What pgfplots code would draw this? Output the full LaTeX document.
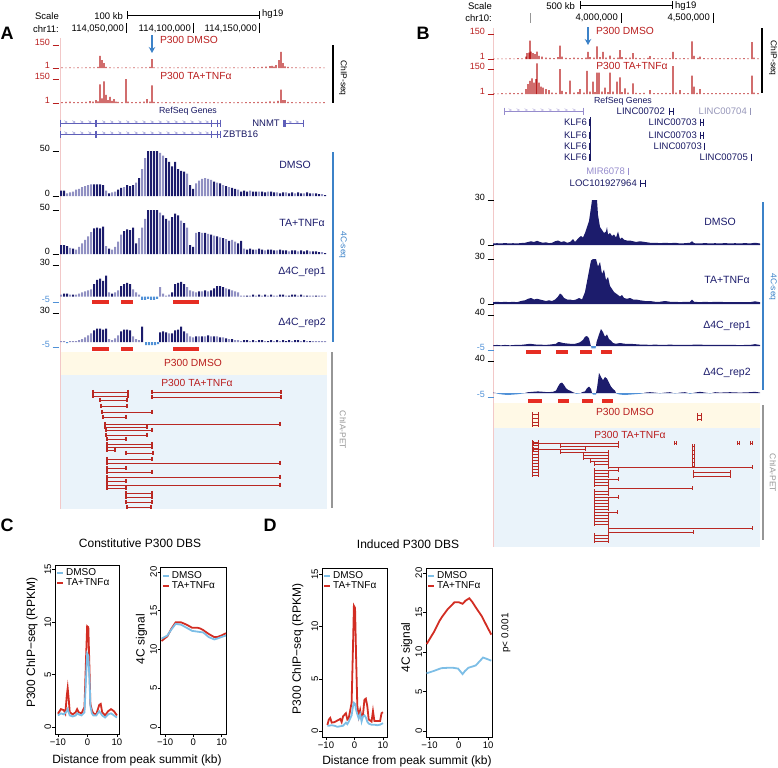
\documentclass[border=0pt]{standalone}
\usepackage{pgfplots}
\pgfplotsset{compat=1.18}
\usetikzlibrary{arrows.meta}
\usepackage{fontspec}
\setmainfont{Liberation Sans}
\setsansfont{Liberation Sans}
\newcommand\fs[1]{\fontsize{#1bp}{#1bp}\selectfont}
\definecolor{chipred}{RGB}{185,30,30}
\definecolor{navyc}{RGB}{28,28,108}
\definecolor{lav}{RGB}{145,145,195}
\definecolor{negblue}{RGB}{80,145,215}
\definecolor{barblue}{RGB}{60,130,200}
\definecolor{delred}{RGB}{230,45,35}
\definecolor{ybg}{RGB}{255,249,230}
\definecolor{bbg}{RGB}{234,243,250}
\definecolor{loopred}{RGB}{185,40,35}
\definecolor{genetxt}{RGB}{25,25,100}
\definecolor{geneline}{RGB}{95,95,185}
\definecolor{genelight}{RGB}{150,140,205}
\definecolor{genegray}{RGB}{150,150,185}
\definecolor{pinkline}{RGB}{242,200,200}
\definecolor{dmsoblue}{RGB}{125,190,230}
\definecolor{tared}{RGB}{210,45,35}
\definecolor{pgray}{RGB}{150,150,150}
\newcommand\trl[4]{\node[anchor=east,font=\fs{9},text=#4,inner sep=0pt] at (#1,#2) {#3};\draw[#4,line width=0.6bp] (#1+2.5,#2+3.2)--(#1+9,#2+3.2);}
\tikzset{gtxt/.style={font=\fs{9.5}, inner sep=0pt}}
\pgfplotsset{
 trk/.style={scale only axis, axis lines=none, clip=false, anchor=north west, xmin=60, xmax=327, width=267bp},
 trkB/.style={scale only axis, axis lines=none, clip=false, anchor=north west, xmin=493, xmax=760, width=267bp},
 dk/.style={ybar, bar width=2, bar shift=0pt, fill=navyc, draw=none},
 lt/.style={ybar, bar width=2, bar shift=0pt, fill=lav, draw=none},
 ng/.style={ybar, bar width=2, bar shift=0pt, fill=negblue, draw=none},
 spk/.style={ybar, bar width=1.1, bar shift=0pt, fill=chipred, draw=none},
 del/.style={delred, line width=4bp},
 loop/.style={loopred, line width=0.7bp, mark=|, mark size=2.2bp, mark options={line width=1.5bp, solid}},
 loopB/.style={loopred, line width=0.6bp, mark=|, mark size=1.6bp, mark options={line width=1bp, solid}},
 chev/.style={only marks, mark=text, text mark={\fs{6}\textcolor{#1}{>}}},
 exon/.style={only marks, mark=|, mark size=3.5bp, mark options={line width=#1}},
 cd/.style={scale only axis, anchor=south west, axis line style={line width=0.7bp}, tick align=outside, tick pos=left, major tick length=3bp, every tick/.style={black, line width=0.6bp}, /pgf/number format/assume math mode=true, ticklabel style={font=\fs{9.5}}, yticklabel style={rotate=90, anchor=south, inner sep=0.5bp}, xticklabel style={inner sep=1.5bp}, xtick={-10,0,10}, xticklabels={−10,0,10}, ytick={0,5,10,15,20}, ylabel style={font=\fs{12}, anchor=center}, legend style={at={(0,1)}, anchor=north west, draw=none, fill=none, font=\fs{10}, inner xsep=1bp, inner ysep=1.5bp, row sep=-2.5bp}, legend cell align=left, reverse legend, legend image code/.code={\draw[#1, line width=2bp] (0bp,0bp)--(6bp,0bp);}},
 dm/.style={dmsoblue, line width=1.8bp},
 ta/.style={tared, line width=1.8bp},
}
\begin{document}
\begin{tikzpicture}
\path[use as bounding box] (0,0) rectangle (778bp,-768bp);
\begin{scope}[x=1bp,y=-1bp]
\fill[ybg] (60,352) rectangle (327,375);
\fill[bbg] (60,375) rectangle (327,509);
\fill[ybg] (494,403) rectangle (760,428);
\fill[bbg] (494,428) rectangle (760,547);
\draw[pinkline,line width=0.6bp] (60,38)--(60,509);
\draw[pinkline,line width=0.6bp] (493,28)--(493,547);
\end{scope}

% ================= PANEL A =================
\begin{axis}[trk, at={(60bp,-45.2bp)}, height=23bp, ymin=0, ymax=150]
\addplot[spk] coordinates {(62,5)(66,4)(70,5)(74,4)(78,5)(82,4)(86,5)(90,6)(94,5)(98,8)(100,80)(102,53)(104,33)(106,8)(110,5)(114,4)(118,5)(122,4)(126,6)(130,4)(134,5)(138,4)(142,5)(146,6)(150,8)(152,60)(154,6)(158,4)(162,5)(166,4)(170,5)(174,4)(178,5)(182,4)(186,5)(190,4)(194,5)(198,4)(202,5)(206,4)(210,5)(214,4)(218,5)(222,4)(226,5)(230,4)(234,5)(238,4)(242,5)(246,4)(250,6)(254,7)(258,6)(262,8)(266,10)(270,13)(272,15)(274,10)(276,20)(279,53)(281,107)(283,33)(285,12)(288,8)(292,6)(296,5)(300,4)(304,5)(308,4)(312,5)(316,4)(320,5)(324,4)};
\end{axis}
\begin{axis}[trk, at={(60bp,-79.2bp)}, height=24bp, ymin=0, ymax=150]
\addplot[spk] coordinates {(62,6)(66,8)(70,10)(74,6)(78,7)(82,6)(86,8)(90,13)(93,10)(96,20)(98,12)(100,117)(102,30)(104,137)(106,52)(108,20)(110,39)(112,15)(114,26)(116,10)(118,8)(122,7)(126,150)(128,10)(132,7)(136,6)(140,8)(144,10)(147,26)(150,10)(152,111)(154,8)(158,6)(162,5)(166,6)(170,5)(174,6)(178,5)(182,6)(186,5)(190,6)(194,5)(198,6)(202,5)(206,6)(210,5)(214,6)(218,5)(222,6)(226,5)(230,6)(234,5)(238,6)(242,5)(246,6)(250,7)(254,6)(258,8)(262,7)(266,9)(270,12)(274,10)(278,15)(281,85)(283,20)(285,20)(288,9)(292,6)(296,5)(300,6)(304,5)(308,6)(312,5)(316,6)(320,5)(324,6)};
\end{axis}
\begin{axis}[trk, at={(60bp,-105bp)}, height=35bp, ymin=105, ymax=140, y dir=reverse]
\addplot[geneline, line width=0.6bp] coordinates {(60,123)(220,123)};
\addplot[geneline, line width=0.6bp] coordinates {(60,134)(220,134)};
\addplot[geneline, line width=0.6bp] coordinates {(283,123)(303,123)};
\addplot[chev=geneline] coordinates {(66,123)(74,123)(82,123)(90,123)(104,123)(112,123)(120,123)(128,123)(136,123)(144,123)(152,123)(160,123)(168,123)(176,123)(184,123)(192,123)(200,123)(207,123)(290,123)(297,123)};
\addplot[chev=geneline] coordinates {(66,134)(74,134)(82,134)(90,134)(104,134)(112,134)(120,134)(128,134)(136,134)(144,134)(152,134)(160,134)(168,134)(176,134)(184,134)(192,134)(200,134)(207,134)};
\addplot[geneline, exon=0.8bp] coordinates {(60,123)(211,123)(217,123)(220,123)(60,134)(211,134)(217,134)(220,134)(283,123)(303,123)};
\addplot[geneline, exon=2bp] coordinates {(96,123)(96,134)(285,123)};
\node[anchor=east, gtxt, text=genetxt] at (axis cs:280,123) {NNMT};
\node[anchor=west, gtxt, text=genetxt] at (axis cs:223,134) {ZBTB16};
\end{axis}
\begin{axis}[trk, at={(60bp,-151bp)}, height=45bp, ymin=0, ymax=50]
\addplot[dk] coordinates {(61,6)(64,6)(94,13)(97,13)(100,13)(103,12)(109,3)(118,7)(121,9)(127,12)(130,11)(133,12)(139,20)(148,50)(151,50)(154,50)(157,50)(166,42)(169,38)(172,33)(175,38)(178,30)(181,28)(184,27)(190,12)(193,8)(214,16)(220,14)(226,11)(232,9)(235,8)(241,5)(244,6)(247,5)(253,5)(256,5)(262,5)(265,4)(271,5)(274,4)(280,3)(283,4)(289,3)(292,4)(298,4)(301,3)(307,4)(310,3)(316,3)(319,2)(325,1)};
\addplot[lt] coordinates {(67,3)(70,4)(73,5)(76,7)(79,8)(82,10)(85,11)(88,12)(91,13)(106,6)(112,4)(115,5)(124,10)(136,15)(142,30)(145,42)(160,48)(163,45)(187,25)(196,14)(199,17)(202,19)(205,20)(208,19)(211,18)(217,15)(223,12)(229,10)(238,7)(250,6)(259,5)(268,5)(277,4)(286,4)(295,3)(304,3)(313,3)(322,2)};
\end{axis}
\begin{axis}[trk, at={(60bp,-210bp)}, height=44bp, ymin=0, ymax=50]
\addplot[dk] coordinates {(61,10)(64,10)(67,9)(73,6)(94,29)(97,30)(100,29)(103,31)(109,6)(124,26)(127,28)(130,27)(133,30)(136,12)(148,50)(151,50)(154,50)(157,50)(163,44)(166,40)(172,42)(175,46)(178,44)(184,35)(190,10)(193,8)(199,25)(205,24)(211,22)(217,20)(223,18)(229,15)(238,12)(241,15)(247,5)(250,6)(253,5)(259,6)(262,5)(268,5)(271,5)(274,4)(280,5)(283,4)(286,4)(292,4)(295,4)(301,4)(304,3)(307,4)(313,3)(316,3)(319,2)(325,1)};
\addplot[lt] coordinates {(70,7)(76,5)(79,8)(82,12)(85,16)(88,20)(91,25)(106,9)(112,5)(115,8)(118,14)(121,22)(139,18)(142,30)(145,40)(160,47)(169,38)(181,38)(187,30)(196,24)(202,24)(208,23)(214,21)(220,19)(226,17)(232,16)(235,14)(244,6)(256,5)(265,4)(277,4)(289,3)(298,3)(310,3)(322,2)};
\end{axis}
\begin{axis}[trk, at={(60bp,-265bp)}, height=37bp, ymin=-5, ymax=30]
\addplot[dk] coordinates {(64,3)(67,3)(73,2)(94,12)(97,16)(100,17)(103,15)(106,20)(112,3)(121,10)(124,12)(127,13)(130,12)(172,4)(175,12)(178,13)(181,14)(184,12)(199,5)(205,6)(211,6)(214,8)(217,10)(220,10)(223,9)(229,7)(247,1)(253,2)(259,2)(265,2)(271,2)(280,2)(283,2)(289,1)(292,2)(295,2)(301,2)(307,1)(316,1)};
\addplot[lt] coordinates {(61,2)(70,2)(76,2)(79,3)(82,4)(85,5)(88,6)(91,7)(109,4)(115,4)(118,6)(133,7)(136,4)(139,2)(160,9)(163,3)(166,1)(169,2)(187,9)(190,6)(193,5)(196,4)(202,5)(208,5)(226,8)(232,6)(235,5)(238,4)(241,1)(244,1)(250,1)(256,1)(262,1)(268,1)(274,1)(277,1)(286,1)(298,1)(304,1)(310,1)(313,1)(319,1)(322,1)(325,1)};
\addplot[ng] coordinates {(142,-3)(145,-3)(148,-2)(151,-3)(154,-3)(157,-2)};
\addplot[del] coordinates {(92,-5.3)(109,-5.3)};
\addplot[del] coordinates {(121,-5.3)(133,-5.3)};
\addplot[del] coordinates {(173,-5.3)(199,-5.3)};
\end{axis}
\begin{axis}[trk, at={(60bp,-313bp)}, height=34bp, ymin=-5, ymax=30]
\addplot[dk] coordinates {(94,12)(97,14)(100,14)(103,13)(106,14)(121,11)(124,13)(127,13)(130,12)(142,16)(160,10)(163,11)(166,10)(172,9)(175,12)(178,13)(181,16)(184,11)(196,6)(202,6)(208,7)(214,6)(220,5)(226,4)(232,3)(244,2)(247,2)(253,2)(259,2)(262,2)(268,1)(271,2)(277,2)(283,2)(286,1)(289,2)(295,2)(298,2)(304,2)(310,1)};
\addplot[lt] coordinates {(61,1)(64,1)(70,1)(73,1)(76,1)(79,2)(82,3)(85,5)(88,7)(91,9)(109,3)(112,2)(115,4)(118,7)(133,6)(136,3)(139,2)(169,9)(187,9)(190,6)(193,5)(199,6)(205,6)(211,6)(217,6)(223,5)(229,3)(235,2)(238,2)(241,1)(250,1)(256,1)(265,1)(274,1)(280,1)(292,1)(301,1)(307,1)(313,1)(316,1)(319,1)(322,1)(325,1)};
\addplot[ng] coordinates {(67,-1)(146,-3)(149,-3)(152,-3)(155,-3)(158,-2)};
\addplot[del] coordinates {(92,-7.2)(109,-7.2)};
\addplot[del] coordinates {(121,-7.2)(133,-7.2)};
\addplot[del] coordinates {(173,-7.2)(199,-7.2)};
\end{axis}
\begin{axis}[trk, at={(60bp,-352bp)}, height=158bp, ymin=352, ymax=510, y dir=reverse, unbounded coords=jump]
\addplot[loop] coordinates {(93,392)(128,392)(128,nan)(152,392)(281,392)(281,nan)(93,396)(128,396)(128,nan)(152,397)(281,397)(281,nan)(100,400)(127,400)(127,nan)(101,406)(127,406)(127,nan)(102,412)(152,412)(152,nan)(103,417)(126,417)(126,nan)(105,424)(280,424)(280,nan)(105,427)(147,427)(147,nan)(106,430)(152,430)(152,nan)(106,435)(147,435)(147,nan)(107,439)(126,439)(126,nan)(107,444)(152,444)(152,nan)(107,447)(152,447)(152,nan)(107,450)(115,450)(115,nan)(126,453)(153,453)(153,nan)(107,459)(152,459)(152,nan)(107,463)(280,463)(280,nan)(107,468)(126,468)(126,nan)(107,472)(152,472)(152,nan)(107,477)(280,477)(280,nan)(107,481)(126,481)(126,nan)(107,485)(280,485)(280,nan)(107,488)(126,488)(126,nan)(126,493)(152,493)(152,nan)(126,497)(152,497)(152,nan)(126,502)(152,502)(152,nan)(127,507)(151,507)};
\end{axis}

% ================= PANEL B =================
\begin{axis}[trkB, at={(493bp,-34.2bp)}, height=25bp, ymin=0, ymax=150]
\addplot[spk] coordinates {(494,4)(498,3)(502,4)(506,3)(510,5)(514,4)(518,6)(522,5)(526,15)(527,36)(529,40)(530,111)(531,45)(533,36)(535,30)(537,45)(539,20)(542,15)(546,10)(550,8)(554,6)(558,12)(560,82)(562,15)(566,8)(570,6)(574,10)(578,8)(582,6)(586,10)(588,44)(590,12)(594,10)(597,77)(600,12)(603,44)(606,10)(610,22)(614,8)(618,10)(620,54)(622,12)(626,8)(630,10)(633,36)(636,8)(640,6)(644,5)(648,8)(650,18)(654,6)(658,5)(662,6)(666,5)(670,6)(673,44)(676,6)(680,5)(684,6)(688,5)(692,107)(694,20)(698,8)(700,15)(704,6)(708,5)(712,6)(716,5)(720,6)(724,5)(728,6)(732,5)(736,6)(740,5)(744,6)(748,5)(752,102)(754,10)(758,5)};
\end{axis}
\begin{axis}[trkB, at={(493bp,-69.2bp)}, height=25bp, ymin=0, ymax=150]
\addplot[spk] coordinates {(494,5)(498,4)(502,6)(506,5)(510,8)(514,6)(518,7)(522,8)(526,30)(528,60)(530,80)(532,95)(534,70)(536,90)(537,185)(539,70)(541,45)(543,40)(546,30)(549,25)(552,10)(556,8)(560,150)(562,20)(566,12)(570,82)(574,10)(578,12)(580,30)(584,10)(587,140)(590,15)(593,75)(595,12)(597,129)(599,129)(602,15)(605,40)(608,12)(610,129)(613,15)(617,75)(620,101)(622,12)(625,35)(628,10)(633,65)(636,8)(640,7)(644,8)(650,25)(654,6)(658,7)(662,6)(666,8)(670,6)(673,169)(676,10)(680,25)(684,6)(688,7)(692,111)(694,46)(697,8)(700,30)(704,7)(708,6)(712,7)(716,6)(720,7)(724,6)(728,7)(732,6)(736,7)(740,6)(744,7)(748,6)(752,111)(754,10)(758,6)};
\end{axis}
\begin{axis}[trkB, at={(493bp,-95bp)}, height=95bp, ymin=95, ymax=190, y dir=reverse]
\addplot[genelight, line width=0.6bp] coordinates {(504,111)(583,111)};
\addplot[chev=genelight] coordinates {(510,111)(518,111)(526,111)(534,111)(542,111)(550,111)(558,111)(566,111)(574,111)};
\addplot[genelight, exon=0.8bp] coordinates {(504,111)(583,111)};
\addplot[genetxt, line width=0.6bp] coordinates {(669,111)(673,111)};
\addplot[genetxt, line width=0.6bp] coordinates {(700,122)(703,122)};
\addplot[genetxt, line width=0.6bp] coordinates {(700,135)(703,135)};
\addplot[genetxt, line width=0.6bp] coordinates {(640,183)(645,183)};
\addplot[genetxt, exon=0.8bp] coordinates {(669,111)(673,111)(700,122)(703,122)(700,135)(703,135)(704,146)(751,157)(640,183)(645,183)(589,122)(589,135)(589,146)(589,157)};
\addplot[genegray, exon=0.8bp] coordinates {(750,111)};
\addplot[genelight, exon=0.8bp] coordinates {(628,171)};
\addplot[genetxt, line width=1bp] coordinates {(590.5,117)(590.5,161)};
\node[anchor=east, gtxt, text=genetxt] at (axis cs:665,111) {LINC00702};
\node[anchor=east, gtxt, text=genegray] at (axis cs:747,111) {LINC00704};
\node[anchor=east, gtxt, text=genetxt] at (axis cs:587,122) {KLF6};
\node[anchor=east, gtxt, text=genetxt] at (axis cs:587,135) {KLF6};
\node[anchor=east, gtxt, text=genetxt] at (axis cs:587,146) {KLF6};
\node[anchor=east, gtxt, text=genetxt] at (axis cs:587,157) {KLF6};
\node[anchor=east, gtxt, text=genetxt] at (axis cs:697,122) {LINC00703};
\node[anchor=east, gtxt, text=genetxt] at (axis cs:697,135) {LINC00703};
\node[anchor=east, gtxt, text=genetxt] at (axis cs:702,146) {LINC00703};
\node[anchor=east, gtxt, text=genetxt] at (axis cs:748,157) {LINC00705};
\node[anchor=east, gtxt, text=genelight] at (axis cs:625,171) {MIR6078};
\node[anchor=east, gtxt, text=genetxt] at (axis cs:637,183) {LOC101927964};
\end{axis}
\begin{axis}[trkB, at={(493bp,-200bp)}, height=45bp, ymin=0, ymax=30]
\addplot[fill=navyc, draw=none] coordinates {(493,0)(493,1)(497,1.2)(501,1)(505,1.3)(509,1)(513,1.2)(517,1)(521,1.3)(525,1.5)(528,2)(531,2.5)(534,2)(537,2.8)(540,2)(543,1.5)(546,1.8)(549,1.2)(552,1.5)(555,2.5)(558,3)(561,2)(564,2.5)(567,1.5)(570,2)(573,4)(575,2)(577,3.5)(579,5)(581,6)(583,5)(585,8)(587,12)(589,16)(591,25)(592,30)(597,30)(598,20)(600,12)(602,10)(604,8)(606,9)(607,12)(608,7)(610,8)(612,6)(614,7)(616,5)(618,9)(620,4)(622,5)(624,3.5)(627,3)(630,3)(633,2.5)(636,2)(640,2.5)(645,2)(650,1.5)(655,1.5)(660,1.2)(665,1.5)(670,1.2)(675,1.5)(680,1)(685,1.2)(690,1.5)(692,2.5)(694,1.2)(700,1)(705,1.3)(710,1)(715,1.2)(720,1)(725,1.3)(730,1)(735,1.2)(740,1)(745,1.3)(750,1)(755,1.5)(760,1)(760,0)} -- cycle;
\end{axis}
\begin{axis}[trkB, at={(493bp,-259bp)}, height=45bp, ymin=0, ymax=30]
\addplot[fill=navyc, draw=none] coordinates {(493,0)(493,1.2)(497,1.5)(501,1.2)(505,1.5)(509,1.2)(513,1.5)(517,1.2)(521,2)(525,2.5)(528,3.5)(531,4)(534,3)(537,3.5)(540,3)(543,2.5)(546,2)(549,2.5)(552,2)(555,3)(558,5)(560,7)(562,6)(564,4)(567,3)(570,3)(573,2.5)(576,3)(579,4)(582,3)(585,8)(587,15)(589,22)(591,29)(593,30)(596,30)(598,25)(600,28)(602,20)(604,23)(606,16)(608,18)(610,12)(612,10)(614,8)(616,7)(618,6)(620,5)(622,6)(624,4)(627,3.5)(630,4)(633,3)(636,3)(640,2.5)(645,2)(650,2)(655,1.5)(660,1.5)(665,2)(670,1.5)(675,1.5)(680,1.2)(685,1.5)(690,1.5)(692,3)(694,1.5)(700,1.2)(705,1.5)(710,1.2)(715,1.5)(720,1.5)(725,1.2)(730,1.2)(735,1.3)(740,1.3)(745,1.2)(750,1.2)(755,1.8)(760,1.2)(760,0)} -- cycle;
\end{axis}
\begin{axis}[trkB, at={(493bp,-315bp)}, height=35bp, ymin=-5, ymax=40]
\addplot[fill=navyc, draw=none] coordinates {(493,0)(493,1)(497,1.5)(501,1)(505,1.5)(510,1)(515,1.5)(520,1.5)(524,2)(527,2.5)(530,3)(533,2.5)(536,2)(540,2)(545,1.5)(550,2)(553,2.5)(556,3)(558,5)(560,5)(563,4)(566,3.5)(570,3)(575,3)(578,4)(580,5)(583,8)(585,12)(587,13)(589,10)(590.5,2)(591,0)(596,0)(596.5,5)(599,15)(601,22)(603,18)(605,12)(607,15)(609,9)(611,7)(613,4)(616,3)(620,4)(625,3)(630,3)(635,2.5)(640,2)(645,2)(650,1.5)(655,2)(660,1.5)(665,1.5)(670,2)(675,1.5)(680,1.5)(685,1.5)(690,1.5)(695,2)(700,2)(705,1.5)(710,1.5)(715,1.5)(720,1.5)(725,1.5)(730,1.5)(735,1.5)(740,1.2)(745,1.5)(750,1.5)(755,2.5)(760,1.5)(760,0)} -- cycle;
\addplot[fill=negblue, draw=none] coordinates {(591,0)(591.5,-3)(595.5,-3)(596,0)} -- cycle;
\addplot[del] coordinates {(526,-7.3)(541,-7.3)};
\addplot[del] coordinates {(556,-7.3)(568,-7.3)};
\addplot[del] coordinates {(580,-7.3)(592,-7.3)};
\addplot[del] coordinates {(601,-7.3)(612,-7.3)};
\end{axis}
\begin{axis}[trkB, at={(493bp,-361bp)}, height=36bp, ymin=-5, ymax=40]
\addplot[fill=navyc, draw=none] coordinates {(493,0)(493,0.5)(496,0)(525,0)(528,1)(533,1.5)(538,2)(543,1.5)(548,1)(553,1.5)(556,3)(558,8)(560,12)(562,13)(564,10)(566,6)(568,4)(570,3)(573,1)(575,0)(581,0)(582,1)(585,2)(587,6)(589,8)(591,5)(592,0)(596,0)(597,6)(599,25)(601,20)(603,16)(605,20)(607,18)(609,13)(611,8)(613,5)(615,3)(616,0)(644,0)(645,0.5)(650,1)(655,0.5)(658,0)(662,0)(665,0.5)(670,1)(673,0)(678,0)(680,0.5)(685,1)(688,0)(693,0)(695,0.5)(700,1.5)(705,0.5)(708,0)(712,0)(715,1)(720,0.5)(730,1)(740,0.5)(750,1)(755,1.5)(760,0.5)(760,0)} -- cycle;
\addplot[fill=negblue, draw=none] coordinates {(496,0)(498,-1)(503,-2)(508,-2.5)(513,-2)(518,-1.5)(523,-0.5)(525,0)(575,0)(576,-1)(579,-0.5)(581,0)(592,0)(593,-2)(596,-2)(596.5,0)(616,0)(617,-1)(620,-2)(625,-2.5)(630,-2)(635,-1.5)(640,-1)(644,0)(658,0)(660,-0.5)(662,0)(673,0)(675,-0.5)(678,0)(688,0)(690,-1)(693,0)(708,0)(710,-0.5)(712,0)} -- cycle;
\addplot[del] coordinates {(528,-9.75)(542,-9.75)};
\addplot[del] coordinates {(558,-9.75)(569,-9.75)};
\addplot[del] coordinates {(582,-9.75)(593,-9.75)};
\addplot[del] coordinates {(602,-9.75)(613,-9.75)};
\end{axis}
\begin{axis}[trkB, at={(493bp,-403bp)}, height=145bp, ymin=403, ymax=548, y dir=reverse, unbounded coords=jump]
\addplot[loopB] coordinates {(532,414)(538,414)(538,nan)(532,418)(538,418)(538,nan)(532,422)(538,422)(538,nan)(532,425)(538,425)(538,nan)(697,415)(701,415)(701,nan)(697,419)(701,419)};
\addplot[loopB] coordinates {(532,442)(538,442)(538,nan)(532,445)(538,445)(538,nan)(532,448)(538,448)(538,nan)(532,451)(538,451)(538,nan)(532,454)(538,454)(538,nan)(532,457)(538,457)(538,nan)(532,460)(538,460)(538,nan)(532,463)(538,463)(538,nan)(532,466)(538,466)(538,nan)(532,469)(538,469)(538,nan)(532,472)(538,472)(538,nan)(532,475)(538,475)(538,nan)(533,443)(618,443)(618,nan)(560,446)(618,446)(618,nan)(533,449)(585,449)(585,nan)(560,452)(608,452)(608,nan)(583,455)(608,455)(608,nan)(583,458)(608,458)(608,nan)(590,461)(608,461)(608,nan)(594,464)(608,464)(608,nan)(608,467)(752,467)(752,nan)(594,470)(618,470)(618,nan)(594,473)(608,473)(608,nan)(594,476)(608,476)(608,nan)(594,479)(618,479)(618,nan)(594,482)(608,482)(608,nan)(594,485)(608,485)(608,nan)(608,488)(692,488)(692,nan)(594,491)(608,491)(608,nan)(594,494)(608,494)(608,nan)(594,497)(618,497)(618,nan)(594,500)(608,500)(608,nan)(594,503)(608,503)(608,nan)(594,506)(608,506)(608,nan)(594,509)(608,509)(608,nan)(594,512)(617,512)(617,nan)(594,515)(608,515)(608,nan)(594,518)(608,518)(608,nan)(594,521)(608,521)(608,nan)(594,524)(608,524)(608,nan)(608,528)(752,528)(752,nan)(608,532)(693,532)(693,nan)(594,535)(608,535)(608,nan)(594,538)(608,538)(608,nan)(594,541)(608,541)(608,nan)(693,472)(730,472)(730,nan)(693,476)(730,476)(730,nan)(674,443)(676,443)(676,nan)(737,443)(739,443)(739,nan)(750,443)(752,443)(752,nan)(692,446)(694,446)(694,nan)(692,450)(694,450)(694,nan)(692,454)(694,454)(694,nan)(692,458)(694,458)(694,nan)(692,462)(694,462)(694,nan)(692,466)(694,466)};
\end{axis}

% ================= PANEL C =================
\begin{axis}[cd, at={(55bp,-734bp)}, width=64bp, height=169bp, xmin=-11, xmax=10.7, ymin=-0.67, ymax=15.43, ylabel={P300 ChIP−seq (RPKM)}, ylabel style={at={(axis description cs:-0.36,0.54)}}]
\addplot[ta] coordinates {(-10,1.27)(-9,1.7)(-8,1.6)(-7.5,1.3)(-7,3.0)(-6.7,3.7)(-6.3,2.5)(-6,1.4)(-5,1.2)(-4,1.4)(-3.5,1.7)(-3,1.4)(-2,1.3)(-1,1.9)(-0.5,6.3)(-0.1,9.6)(0.3,9.5)(0.7,5.4)(1,2.2)(1.5,1.6)(2,1.3)(3,1.2)(4,2.1)(4.5,2.2)(5,1.4)(6,1.1)(7,1.5)(8,1.7)(9,1.5)(10,1.1)};
\addlegendentry{TA+TNFα}
\addplot[dm] coordinates {(-10,1.1)(-9,1.3)(-8,1.2)(-7,1.5)(-6.7,1.7)(-6,1.1)(-5,1.0)(-4,1.1)(-3.5,1.3)(-3,1.2)(-2,1.1)(-1,1.4)(-0.5,4.5)(-0.1,7.0)(0.3,6.8)(0.7,4.5)(1,2.0)(1.5,1.3)(2,1.1)(3,1.1)(4,1.5)(5,1.1)(6,0.9)(7,1.2)(8,1.3)(9,1.1)(10,0.9)};
\addlegendentry{DMSO}
\end{axis}
\begin{axis}[cd, at={(160.7bp,-734bp)}, width=66bp, height=166.3bp, xmin=-11.55, xmax=11.8, ymin=-0.9, ymax=20.55, ylabel={4C signal}, ylabel style={at={(axis description cs:-0.29,0.57)}}]
\addplot[ta] coordinates {(-11.26,11.1)(-9.2,11.7)(-7.74,12.7)(-6.27,13.5)(-4.32,13.5)(-2.37,13.2)(-0.41,12.8)(1.54,12.8)(2.52,12.7)(3.5,12.5)(5.45,12.0)(7.41,11.6)(8.39,11.6)(9.85,11.8)(11.51,12.1)};
\addlegendentry{TA+TNFα}
\addplot[dm] coordinates {(-11.26,11.4)(-9.2,11.8)(-7.74,12.6)(-6.27,13.3)(-4.32,13.2)(-2.37,12.8)(-0.41,12.4)(1.54,12.3)(3.5,12.2)(5.45,11.6)(7.41,11.3)(8.39,11.4)(9.85,11.6)(11.51,11.8)};
\addlegendentry{DMSO}
\end{axis}

% ================= PANEL D =================
\begin{axis}[cd, at={(322bp,-737bp)}, width=65.5bp, height=169bp, xmin=-11.4, xmax=11.6, ymin=-0.58, ymax=15.63, ylabel={P300 ChIP−seq (RPKM)}, ylabel style={at={(axis description cs:-0.37,0.52)}}]
\addplot[ta] coordinates {(-9.5,0.57)(-9,1.1)(-8.5,1.25)(-8,0.8)(-7,0.85)(-6,1.0)(-5,1.15)(-4.5,0.85)(-4,1.4)(-3,1.7)(-2.5,1.1)(-2,1.25)(-1,2.7)(-0.5,8.3)(-0.2,12.0)(0.2,11.8)(0.6,6.8)(1,2.4)(1.5,1.4)(2,2.0)(2.5,1.25)(3,1.6)(3.5,3.0)(4,3.1)(4.5,2.4)(5,1.1)(6,0.9)(6.5,1.9)(7,0.95)(8,0.95)(9,0.95)(9.5,1.7)(10,1.8)};
\addlegendentry{TA+TNFα}
\addplot[dm] coordinates {(-9.5,0.5)(-9,0.5)(-8,0.55)(-7,0.5)(-6,0.4)(-5,0.45)(-4,0.5)(-3,0.8)(-2.5,0.65)(-2,0.9)(-1,1.5)(-0.5,2.4)(-0.2,2.7)(0.2,2.6)(0.6,2.0)(1,1.6)(1.5,1.2)(2,1.6)(2.5,0.9)(3,1.4)(3.5,1.5)(4,1.3)(4.5,0.9)(5,0.7)(6,0.6)(7,0.6)(8,0.55)(9,0.6)(10,0.75)};
\addlegendentry{DMSO}
\end{axis}
\begin{axis}[cd, at={(426bp,-737bp)}, width=66bp, height=169bp, xmin=-11.2, xmax=11.35, ymin=-0.76, ymax=20.63, ylabel={4C signal}, ylabel style={at={(axis description cs:-0.29,0.53)}}]
\addplot[ta] coordinates {(-11.0,11.0)(-8.55,12.5)(-6.66,13.9)(-5.62,14.5)(-3.83,15.4)(-1.46,16.3)(-0.04,16.3)(1.3,16.1)(2.32,16.5)(3.6,16.8)(4.68,16.3)(5.63,15.75)(7.9,14.5)(9.41,13.4)(11.1,12.2)};
\addlegendentry{TA+TNFα}
\addplot[dm] coordinates {(-11.0,7.3)(-8.55,7.6)(-6.0,7.95)(-3.83,8.0)(-1.94,8.0)(-0.24,7.9)(1.3,7.2)(2.13,7.6)(3.27,8.0)(5.82,8.3)(8.28,9.3)(9.41,9.15)(11.1,8.9)};
\addlegendentry{DMSO}
\end{axis}

% ================= TEXT & DECORATION =================
\begin{scope}[x=1bp,y=-1bp, every node/.style={inner sep=0pt}]
\node[anchor=east,font=\fs{9.5}] at (59,16) {Scale};
\node[anchor=east,font=\fs{9.5}] at (59,29) {chr11:};
\node[anchor=east,font=\fs{9.5}] at (123,16) {100 kb};
\draw[line width=0.7bp] (127,15)--(259,15) (127,11)--(127,19) (259,11)--(259,19);
\node[anchor=west,font=\fs{9.5}] at (262,14) {hg19};
\node[anchor=east,font=\fs{9.5}] at (124,29) {114,050,000};
\node[anchor=east,font=\fs{9.5}] at (191,29) {114,100,000};
\node[anchor=east,font=\fs{9.5}] at (257,29) {114,150,000};
\draw[line width=0.7bp] (126.5,23)--(126.5,33) (193.5,23)--(193.5,33) (259,23)--(259,33);
\draw[barblue,line width=1.6bp,-{Stealth[length=6bp,width=6.5bp]}] (152,35)--(152,53);
\node[font=\fs{10.3},text=chipred] at (189,40) {P300 DMSO};
\node[font=\fs{10.3},text=chipred] at (196,76) {P300 TA+TNFα};
\trl{50}{42}{150}{chipred}
\trl{50}{65}{1}{chipred}
\trl{50}{76}{150}{chipred}
\trl{50}{100}{1}{chipred}
\node[font=\fs{8.8},text=genetxt] at (188,111) {RefSeq Genes};
\trl{50}{148}{50}{black}
\trl{50}{193}{0}{black}
\trl{50}{207}{50}{black}
\trl{50}{251}{0}{black}
\trl{50}{262}{30}{black}
\trl{50}{299}{-5}{negblue}
\trl{50}{310}{30}{black}
\trl{50}{344}{-5}{negblue}
\node[font=\fs{10.5},text=navyc] at (295,165) {DMSO};
\node[font=\fs{10.5},text=navyc] at (302,223) {TA+TNFα};
\node[font=\fs{10.5},text=navyc] at (302,272) {Δ4C\_rep1};
\node[font=\fs{10.5},text=navyc] at (302,323) {Δ4C\_rep2};
\node[font=\fs{10.3},text=chipred] at (193,363) {P300 DMSO};
\node[font=\fs{10.3},text=chipred] at (197,383) {P300 TA+TNFα};
\draw[black,line width=2.5bp] (333,45)--(333,103);
\draw[barblue,line width=2.5bp] (333,152)--(333,342);
\draw[pgray,line width=2.5bp] (332,352)--(332,508);
\node[rotate=-90,font=\fs{8.5}] at (343,78) {ChIP-seq};
\node[rotate=-90,font=\fs{8.5},text=barblue] at (343,245) {4C-seq};
\node[rotate=-90,font=\fs{8.5},text=pgray] at (343,430) {ChIA-PET};
\node[anchor=east,font=\fs{9.5}] at (492,6) {Scale};
\node[anchor=east,font=\fs{9.5}] at (492,18) {chr10:};
\node[anchor=east,font=\fs{9.5}] at (575,6) {500 kb};
\draw[line width=0.7bp] (580,5)--(672,5) (580,1)--(580,9) (672,1)--(672,9);
\node[anchor=west,font=\fs{9.5}] at (675,6) {hg19};
\draw[pgray,line width=0.7bp] (530,13)--(530,23);
\node[anchor=east,font=\fs{9.5}] at (618,18) {4,000,000};
\node[anchor=east,font=\fs{9.5}] at (710,18) {4,500,000};
\draw[line width=0.7bp] (621,13)--(621,23) (713,13)--(713,23);
\draw[barblue,line width=1.6bp,-{Stealth[length=6bp,width=6.5bp]}] (588,27)--(588,45);
\node[font=\fs{10.3},text=chipred] at (625,31) {P300 DMSO};
\node[font=\fs{10.3},text=chipred] at (632,66) {P300 TA+TNFα};
\trl{485}{31}{150}{chipred}
\trl{485}{56}{1}{chipred}
\trl{485}{66}{150}{chipred}
\trl{485}{91}{1}{chipred}
\node[font=\fs{8.8},text=genetxt] at (623,101) {RefSeq Genes};
\trl{485}{197}{30}{black}
\trl{485}{242}{0}{black}
\trl{485}{256}{30}{black}
\trl{485}{301}{0}{black}
\trl{485}{312}{40}{black}
\trl{485}{347}{-5}{negblue}
\trl{485}{358}{40}{black}
\trl{485}{394}{-5}{negblue}
\node[font=\fs{10.5},text=navyc] at (720,222) {DMSO};
\node[font=\fs{10.5},text=navyc] at (727,280) {TA+TNFα};
\node[font=\fs{10.5},text=navyc] at (727,326) {Δ4C\_rep1};
\node[font=\fs{10.5},text=navyc] at (727,373) {Δ4C\_rep2};
\node[font=\fs{10.3},text=chipred] at (625,412) {P300 DMSO};
\node[font=\fs{10.3},text=chipred] at (630,435) {P300 TA+TNFα};
\draw[black,line width=2.5bp] (762,28)--(762,93);
\draw[barblue,line width=2.5bp] (763,202)--(763,390);
\draw[pgray,line width=2.5bp] (763,405)--(763,540);
\node[rotate=-90,font=\fs{8.5}] at (773,58) {ChIP-seq};
\node[rotate=-90,font=\fs{8.5},text=barblue] at (773,287) {4C-seq};
\node[rotate=-90,font=\fs{8.5},text=pgray] at (773,473) {ChIA-PET};
\node[font=\fs{18}\bfseries] at (7,33) {A};
\node[font=\fs{18}\bfseries] at (423,33) {B};
\node[font=\fs{18}\bfseries] at (7,525) {C};
\node[font=\fs{18}\bfseries] at (270,525) {D};
\node[font=\fs{12}] at (140,543) {Constitutive P300 DBS};
\node[font=\fs{12}] at (408,544) {Induced P300 DBS};
\node[font=\fs{12}] at (137,760) {Distance from peak summit (kb)};
\node[font=\fs{12}] at (407,761) {Distance from peak summit (kb)};
\node[rotate=90,font=\fs{10}] at (506,633) {p< 0.001};
\end{scope}
\end{tikzpicture}
\end{document}
